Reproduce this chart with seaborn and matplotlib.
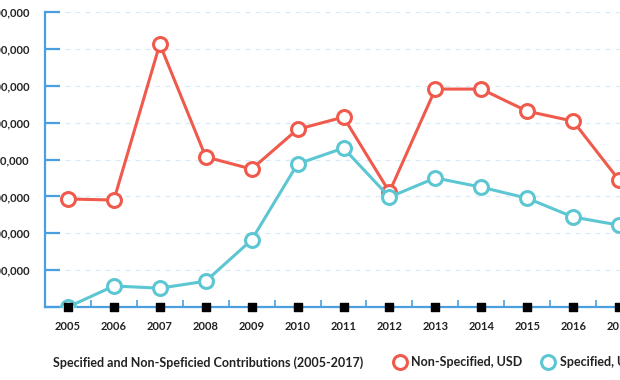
import numpy as np
import pandas as pd
import matplotlib
matplotlib.use('Agg')
import matplotlib.pyplot as plt
from matplotlib.lines import Line2D
from matplotlib.ticker import MultipleLocator, FuncFormatter
import seaborn as sns

years = [2005, 2006, 2007, 2008, 2009, 2010, 2011, 2012, 2013, 2014, 2015, 2016, 2017]
non_specified = [293000, 290000, 713000, 407000, 374000, 482000, 515000,
                 312000, 591000, 591000, 531000, 504000, 344000]
specified = [0, 57000, 51000, 70000, 182000, 388000, 431000,
             298000, 350000, 325000, 295000, 244000, 222000]

red = '#f05a4c'
cyan = '#5cc6d2'
blue = '#4a9fe0'

sns.set_style('white')
plt.rcParams['font.family'] = ['Lato', 'DejaVu Sans']

df = pd.DataFrame({'year': years, 'Non-Specified, USD': non_specified,
                   'Specified, USD': specified})

fig = plt.figure(figsize=(6.2, 3.8), dpi=100)
# axes deliberately run past the figure edges (reference is a crop)
ax = fig.add_axes([45/620, 73/380, 597/620, 295/380])

for col, c in [('Non-Specified, USD', red), ('Specified, USD', cyan)]:
    sns.lineplot(data=df, x='year', y=col, ax=ax, color=c, lw=2.2,
                 marker='o', markersize=10, markerfacecolor='white',
                 markeredgecolor=c, markeredgewidth=2.2, zorder=3)

# black squares on the axis at each year
ax.scatter(years, [0]*len(years), marker='s', s=40, color='black',
           zorder=5, clip_on=False)

ax.set_xlim(2004.5, 2017.5)
ax.set_ylim(0, 800000)
ax.yaxis.set_major_locator(MultipleLocator(100000))
ax.yaxis.set_major_formatter(FuncFormatter(lambda v, p: '' if v == 0 else f'{int(v):,}'))
ax.set_xticks(years)
ax.set_xticklabels([str(y) for y in years])
ax.set_xticks([y + 0.5 for y in years], minor=True)

ax.grid(axis='y', color='#d8eaf7', ls=(0, (4, 4)), lw=0.9)
ax.set_axisbelow(True)
for s in ['top', 'right']:
    ax.spines[s].set_visible(False)
for s in ['left', 'bottom']:
    ax.spines[s].set_color(blue)
    ax.spines[s].set_linewidth(1.6)

ax.tick_params(axis='y', left=True, direction='in', length=11, width=1.6, color=blue,
               pad=11, labelsize=8)
ax.tick_params(axis='x', which='major', bottom=True, length=0, pad=10, labelsize=8)
ax.tick_params(axis='x', which='minor', bottom=True, direction='in', length=5, width=1.2,
               color=blue)
for lab in ax.get_xticklabels() + ax.get_yticklabels():
    lab.set_fontweight('bold')
    lab.set_color('#222222')
ax.set_xlabel('')
ax.set_ylabel('')

fig.text(53/620, 1 - 363/380, 'Specified and Non-Speficied Contributions (2005-2017)',
         fontsize=9.0, fontweight='bold', color='#222222', va='center', ha='left')

handles = [Line2D([], [], ls='none', marker='o', markersize=10, markerfacecolor='white',
                  markeredgecolor=red, markeredgewidth=2.2),
           Line2D([], [], ls='none', marker='o', markersize=10, markerfacecolor='white',
                  markeredgecolor=cyan, markeredgewidth=2.2)]
leg = fig.legend(handles, ['Non-Specified, USD', 'Specified, USD'], ncol=2,
                 loc='center left', bbox_to_anchor=(382/620, 1 - 362/380),
                 frameon=False, handlelength=1.0, handletextpad=0.45,
                 columnspacing=1.5, prop={'size': 9.0, 'weight': 'bold'})
for t in leg.get_texts():
    t.set_color('#222222')

fig.savefig('out.png', dpi=100)
